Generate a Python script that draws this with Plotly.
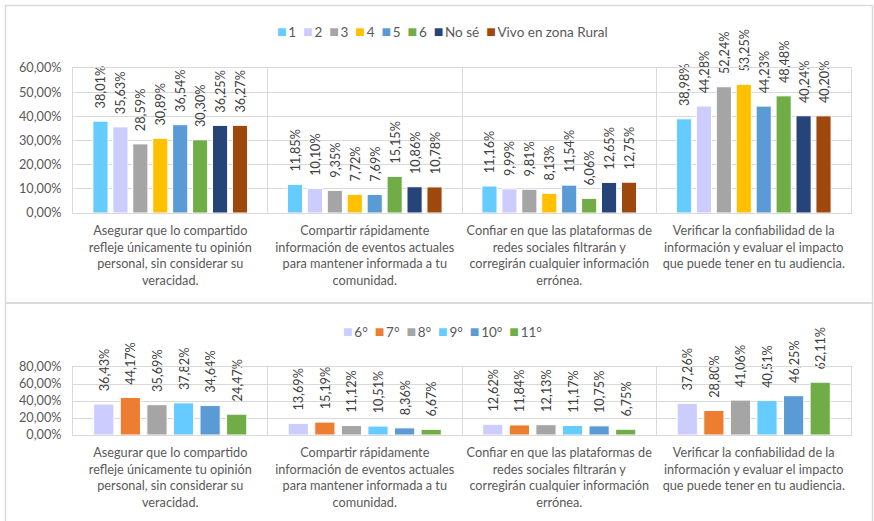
import plotly.graph_objects as go

# ---- data -------------------------------------------------------------
categories = [
    "Asegurar que lo compartido<br>refleje únicamente tu opinión<br>personal, sin considerar su<br>veracidad.",
    "Compartir rápidamente<br>información de eventos actuales<br>para mantener informada a tu<br>comunidad.",
    "Confiar en que las plataformas de<br>redes sociales filtrarán y<br>corregirán cualquier información<br>errónea.",
    "Verificar la confiabilidad de la<br>información y evaluar el impacto<br>que puede tener en tu audiencia.",
]

top_names = ["1", "2", "3", "4", "5", "6", "No sé", "Vivo en zona Rural"]
top_values = [
    [38.01, 11.85, 11.16, 38.98],
    [35.63, 10.10, 9.99, 44.28],
    [28.59, 9.35, 9.81, 52.24],
    [30.89, 7.72, 8.13, 53.25],
    [36.54, 7.69, 11.54, 44.23],
    [30.30, 15.15, 6.06, 48.48],
    [36.25, 10.86, 12.65, 40.24],
    [36.27, 10.78, 12.75, 40.20],
]
top_colors = ["#66CCFF", "#CCCCFF", "#A5A5A5", "#FFC000",
              "#5B9BD5", "#70AD47", "#264478", "#9E480E"]

bottom_names = ["6°", "7°", "8°", "9°", "10°", "11°"]
bottom_values = [
    [36.43, 13.69, 12.62, 37.26],
    [44.17, 15.19, 11.84, 28.80],
    [35.69, 11.12, 12.13, 41.06],
    [37.82, 10.51, 11.17, 40.51],
    [34.64, 8.36, 10.75, 46.25],
    [24.47, 6.67, 6.75, 62.11],
]
bottom_colors = ["#CCCCFF", "#ED7D31", "#A5A5A5", "#66CCFF", "#5B9BD5", "#70AD47"]

# ---- styling ----------------------------------------------------------
W, H = 874, 521
FONT = "Lato"
GRID = "#D9D9D9"
TXT = "#595959"
LBL = "#404040"
FS = 12.7


def px_x(x):
    return x / W


def px_y(y):
    return 1 - y / H


def pct_label(v):
    # value label, padded so it sits a little above the bar
    return "\u00a0\u00a0\u00a0" + f"{v:.2f}%".replace(".", ",")


fig = go.Figure()

for name, vals, col in zip(top_names, top_values, top_colors):
    fig.add_trace(go.Bar(
        x=categories, y=[v / 100 for v in vals], name=name,
        marker=dict(color=col, line=dict(color="white", width=1)),
        text=[pct_label(v) for v in vals], textposition="outside",
        textangle=-90, constraintext="none", cliponaxis=False,
        textfont=dict(family=FONT, size=FS, color=LBL),
        xaxis="x", yaxis="y", showlegend=False,
    ))

for name, vals, col in zip(bottom_names, bottom_values, bottom_colors):
    fig.add_trace(go.Bar(
        x=categories, y=[v / 100 for v in vals], name=name,
        marker=dict(color=col, line=dict(color="white", width=1)),
        text=[pct_label(v) for v in vals], textposition="outside",
        textangle=-90, constraintext="none", cliponaxis=False,
        textfont=dict(family=FONT, size=FS, color=LBL),
        xaxis="x2", yaxis="y2", showlegend=False,
    ))

xaxis_common = dict(
    type="category", showgrid=True, gridcolor=GRID, gridwidth=1,
    tickson="boundaries", ticks="", showline=True, mirror=True,
    linecolor=GRID, linewidth=1, ticklabelstandoff=6, automargin=False,
    tickangle=0,
    tickfont=dict(family=FONT, size=FS, color=TXT), fixedrange=True,
)
yaxis_common = dict(
    showgrid=True, gridcolor=GRID, gridwidth=1, zeroline=False,
    showline=True, mirror=True, linecolor=GRID, linewidth=1,
    tickformat=".2%", ticks="", ticklabelstandoff=8, automargin=False,
    tickfont=dict(family=FONT, size=FS, color=TXT), fixedrange=True,
)

fig.update_layout(
    width=W, height=H,
    margin=dict(l=0, r=0, t=0, b=0, autoexpand=False),
    paper_bgcolor="white", plot_bgcolor="white",
    separators=",.",
    barmode="group", bargap=0.18, bargroupgap=0.24,
    font=dict(family=FONT, size=FS, color=TXT),
    xaxis=dict(domain=[px_x(73), px_x(851)], anchor="y", **xaxis_common),
    yaxis=dict(domain=[px_y(213), px_y(68)], anchor="x",
               range=[0, 0.6], dtick=0.1, **yaxis_common),
    xaxis2=dict(domain=[px_x(73), px_x(851)], anchor="y2", **xaxis_common),
    yaxis2=dict(domain=[px_y(435), px_y(367)], anchor="x2",
                range=[0, 0.8], dtick=0.2, **yaxis_common),
)


def legend_text(names, colors):
    parts = [f"<span style='color:{c};font-size:16px'>■</span>\u2009{n}"
             for n, c in zip(names, colors)]
    return "\u00a0\u00a0".join(parts)


fig.add_annotation(
    x=px_x(442), y=px_y(31), xref="paper", yref="paper",
    text=legend_text(top_names, top_colors), showarrow=False,
    font=dict(family=FONT, size=13.5, color=TXT), xanchor="center", yanchor="middle",
)
fig.add_annotation(
    x=px_x(442), y=px_y(330), xref="paper", yref="paper",
    text=legend_text(bottom_names, bottom_colors), showarrow=False,
    font=dict(family=FONT, size=13.5, color=TXT), xanchor="center", yanchor="middle",
)

# chart frames
fig.add_shape(type="rect", xref="paper", yref="paper",
              x0=px_x(5.5), x1=px_x(872.5), y0=px_y(303), y1=px_y(5.5),
              line=dict(color=GRID, width=1.5), layer="below")
fig.add_shape(type="rect", xref="paper", yref="paper",
              x0=px_x(5.5), x1=px_x(872.5), y0=px_y(530), y1=px_y(303),
              line=dict(color=GRID, width=1.5), layer="below")

fig.write_html("out.html")
